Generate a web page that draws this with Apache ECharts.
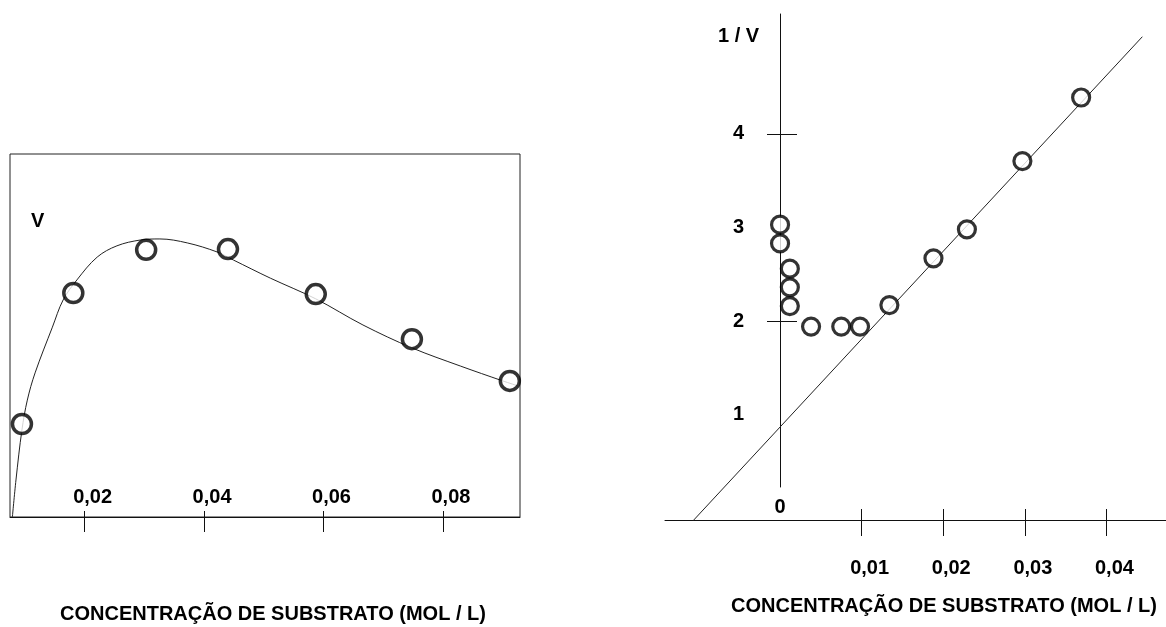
<!DOCTYPE html>
<html>
<head>
<meta charset="utf-8">
<style>
  html, body { margin: 0; padding: 0; background: #fff; }
  #chart { width: 1166px; height: 627px; }
</style>
<script src="https://cdn.jsdelivr.net/npm/echarts@6/dist/echarts.min.js"></script>
</head>
<body>
<div id="chart"></div>
<script>
// ── Data ─────────────────────────────────────────────────────

// left panel: V against substrate concentration
const leftTickValues = [0.02, 0.04, 0.06, 0.08];
const leftPointX = [0.0095, 0.0181, 0.0303, 0.0440, 0.0587, 0.0748, 0.0912];
const leftPointY = [2.56, 6.17, 7.36, 7.38, 6.14, 4.90, 3.75];
const leftCurveX = [0.0079, 0.0085, 0.0095, 0.0104, 0.0117, 0.0146, 0.0164, 0.0187,
                    0.0221, 0.0254, 0.0293, 0.0326, 0.0372, 0.0422, 0.0449, 0.0511,
                    0.0587, 0.0666, 0.0748, 0.0829, 0.0900, 0.0926];
const leftCurveY = [0, 1.02, 2.40, 3.22, 3.97, 5.23, 5.98, 6.53,
                    7.16, 7.47, 7.63, 7.66, 7.55, 7.30, 7.08, 6.58,
                    6.01, 5.29, 4.66, 4.16, 3.75, 3.61];

// right panel: 1/V against substrate concentration
const rightTickValues = [0.01, 0.02, 0.03, 0.04];
const rightLabelValuesY = [1, 2, 3, 4];
const rightTickValuesY = [2, 4];
const rightPointX = [0, 0, 0.0012, 0.0012, 0.0012, 0.0038, 0.0075, 0.0098,
                     0.0134, 0.0188, 0.0229, 0.0297, 0.0369];
const rightPointY = [3.03, 2.83, 2.56, 2.36, 2.16, 1.94, 1.94, 1.94,
                     2.17, 2.67, 2.98, 3.71, 4.39];
const rightLineX = [-0.0107, 0.0444];
const rightLineY = [-0.14, 5.04];

const xTitle = 'CONCENTRAÇÃO DE SUBSTRATO (MOL / L)';

// ── Helpers ──────────────────────────────────────────────────

const zip = (xs, ys) => xs.map((x, i) => [x, ys[i]]);
const comma = v => v.toFixed(2).replace('.', ',');

const FONT = 'Liberation Sans, Arial, sans-serif';
const txt = { color: '#000', fontFamily: FONT, fontSize: 20, fontWeight: 'bold' };
const thin = { color: '#111', width: 1 };
const off = { show: false };

// right panel x scale is shared by two grids: one spans the whole x axis,
// the other starts at x = 0 so the 1/V axis sits on its left edge
const R_MIN = -0.0141, R_MAX = 0.0473;

// ── Chart ────────────────────────────────────────────────────

const chart = echarts.init(document.getElementById('chart'), null, { renderer: 'canvas' });

chart.setOption({
  backgroundColor: '#fff',
  animation: false,
  title: [
    { text: 'V',      left: 31,  top: 211, padding: 0, textStyle: txt },
    { text: '1 / V',  left: 718, top: 26,  padding: 0, textStyle: txt },
    { text: xTitle,   left: 60,  top: 604, padding: 0, textStyle: txt },
    { text: xTitle,   left: 731, top: 596, padding: 0, textStyle: txt },
  ],
  grid: [
    { left: 10,  right: 646, top: 154, bottom: 110, show: true,
      borderColor: '#222', borderWidth: 1, backgroundColor: 'transparent' },
    { left: 665, right: 0,   top: 14,  bottom: 107 },   // x axis + marks
    { left: 780, right: 0,   top: 14,  bottom: 140 },   // 1/V axis
  ],
  xAxis: [
    // left panel, outer ticks + labels above the line
    { type: 'value', gridIndex: 0, min: 0.0075, max: 0.0929,
      axisLine: { show: true, onZero: false, lineStyle: thin },
      axisTick: { show: true, length: 15, customValues: leftTickValues, lineStyle: thin },
      axisLabel: { inside: true, margin: 10, customValues: leftTickValues,
                   formatter: comma, padding: [0, 0, 0, 16], ...txt },
      splitLine: off },
    // left panel, short inner part of the ticks
    { type: 'value', gridIndex: 0, min: 0.0075, max: 0.0929, position: 'bottom',
      axisLine: { show: false, onZero: false },
      axisTick: { show: true, inside: true, length: 6, customValues: leftTickValues, lineStyle: thin },
      axisLabel: off, splitLine: off },
    // right panel, main axis
    { type: 'value', gridIndex: 1, min: R_MIN, max: R_MAX,
      axisLine: { show: true, onZero: false, lineStyle: thin },
      axisTick: { show: true, length: 16, customValues: rightTickValues, lineStyle: thin },
      axisLabel: { margin: 38, customValues: rightTickValues,
                   formatter: comma, padding: [0, 0, 0, 16], ...txt },
      splitLine: off },
    // right panel, inner ticks and the "0"
    { type: 'value', gridIndex: 1, min: R_MIN, max: R_MAX, position: 'bottom',
      axisLine: { show: false, onZero: false },
      axisTick: { show: true, inside: true, length: 11, customValues: rightTickValues, lineStyle: thin },
      axisLabel: { inside: true, margin: 3, customValues: [0], formatter: v => String(v), ...txt },
      splitLine: off },
    // right panel, hidden x scale of the 1/V axis grid
    { type: 'value', gridIndex: 2, min: 0, max: R_MAX, show: false },
  ],
  yAxis: [
    { type: 'value', gridIndex: 0, min: 0, max: 10, show: false },
    { type: 'value', gridIndex: 1, min: -0.128, max: 5.283, show: false },
    { type: 'value', gridIndex: 2, min: 0.2246, max: 5.283, position: 'left',
      axisLine: { show: true, onZero: false, lineStyle: thin },
      axisTick: { show: true, length: 13, customValues: rightTickValuesY, lineStyle: thin },
      axisLabel: { margin: 36, customValues: rightLabelValuesY, ...txt },
      splitLine: off },
    { type: 'value', gridIndex: 2, min: 0.2246, max: 5.283, position: 'left',
      axisLine: { show: false, onZero: false },
      axisTick: { show: true, inside: true, length: 17, customValues: rightTickValuesY, lineStyle: thin },
      axisLabel: off, splitLine: off },
  ],
  series: [
    { type: 'line', xAxisIndex: 0, yAxisIndex: 0, data: zip(leftCurveX, leftCurveY),
      smooth: 0.35, showSymbol: false, lineStyle: { color: '#222', width: 1 }, z: 2 },
    { type: 'scatter', xAxisIndex: 0, yAxisIndex: 0, data: zip(leftPointX, leftPointY),
      symbol: 'circle', symbolSize: 19,
      itemStyle: { color: '#fff', borderColor: '#000', borderWidth: 3.5 }, z: 3 },
    { type: 'line', xAxisIndex: 2, yAxisIndex: 1, data: zip(rightLineX, rightLineY),
      showSymbol: false, lineStyle: { color: '#222', width: 1 }, z: 2 },
    { type: 'scatter', xAxisIndex: 2, yAxisIndex: 1, data: zip(rightPointX, rightPointY),
      symbol: 'circle', symbolSize: 17,
      itemStyle: { color: '#fff', borderColor: '#000', borderWidth: 3.2 }, z: 3 },
  ],
});
</script>
</body>
</html>
